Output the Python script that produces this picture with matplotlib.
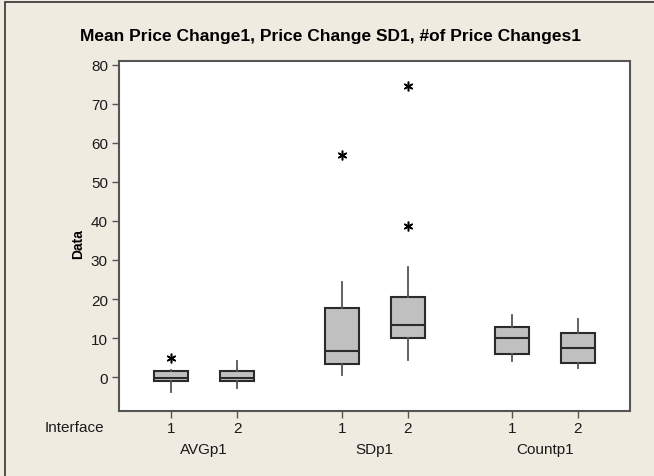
import matplotlib
matplotlib.use('agg')
import matplotlib.pyplot as plt
from matplotlib.patches import Rectangle
import matplotlib.transforms as mtransforms

# box summaries
groups = ['AVGp1', 'SDp1', 'Countp1']
interface = ['1', '2', '1', '2', '1', '2']
whislo = [-3.9, -2.9, 0.5, 4.4, 4.1, 2.2]
q1 = [-1.1, -1.1, 3.4, 10.1, 5.9, 3.7]
med = [-0.2, -0.2, 6.6, 13.3, 10.1, 7.5]
q3 = [1.5, 1.5, 17.7, 20.6, 12.9, 11.4]
whishi = [1.8, 4.1, 24.3, 28.1, 16.0, 14.8]
outliers = [[4.8], [], [56.8], [74.6, 38.8], [], []]

positions = [1, 2, 3.59, 4.59, 6.17, 7.17]
bg = '#EFEBE1'

plt.rcParams['font.family'] = ['Liberation Sans', 'DejaVu Sans']

fig = plt.figure(figsize=(6.54, 4.77), dpi=100, facecolor=bg)
ax = fig.add_axes([119 / 654, 1 - 412 / 477, (630 - 119) / 654, (412 - 62) / 477])

stats = []
for i in range(len(positions)):
    stats.append(dict(whislo=whislo[i], q1=q1[i], med=med[i], q3=q3[i],
                      whishi=whishi[i], fliers=outliers[i]))

ax.bxp(stats, positions=positions, widths=0.52, patch_artist=True,
       showcaps=False,
       boxprops=dict(facecolor='#C0C0C0', edgecolor='#2b2b2b', linewidth=1.5),
       medianprops=dict(color='#2b2b2b', linewidth=1.5),
       whiskerprops=dict(color='#555555', linewidth=1.3),
       flierprops=dict(marker=(6, 2, 0), markersize=7, markeredgecolor='black',
                       markeredgewidth=1.1, linestyle='none'))

ax.set_xlim(0.21, 7.96)
ax.set_ylim(-8.7, 81.0)
ax.set_yticks(range(0, 81, 10))
ax.set_xticks(positions)
ax.set_xticklabels(interface)
ax.tick_params(direction='out', length=5, width=1, color='#555555',
               labelsize=11, labelcolor='#1a1a1a', pad=3)
ax.tick_params(axis='x', pad=2)
for s in ax.spines.values():
    s.set_color('#555555')
    s.set_linewidth(1.5)

ax.set_ylabel('Data', fontsize=10, fontweight='bold')
ax.yaxis.set_label_coords((85 - 119) / 511, (412 - 244) / 350)

trans = mtransforms.blended_transform_factory(ax.transData, fig.transFigure)
for j, g in enumerate(groups):
    xc = (positions[2 * j] + positions[2 * j + 1]) / 2
    ax.text(xc, 1 - 450 / 477, g, transform=trans, ha='center', va='center',
            fontsize=11, color='#1a1a1a')
fig.text(74 / 654, 1 - 428 / 477, 'Interface', ha='center', va='center',
         fontsize=11, color='#1a1a1a')

fig.text(331 / 654, 1 - 37 / 477, 'Mean Price Change1, Price Change SD1, #of Price Changes1',
         ha='center', va='center', fontsize=12.5, fontweight='bold',
         family=['Liberation Sans Narrow', 'Liberation Sans', 'DejaVu Sans'])

# outer frame (left and top edges visible)
fig.add_artist(Rectangle((5 / 654, -0.1), 1.2, 1.1 - 2.5 / 477, transform=fig.transFigure,
                         fill=False, edgecolor='#333333', linewidth=1.2))

fig.savefig('out.png', dpi=100, facecolor=bg)
